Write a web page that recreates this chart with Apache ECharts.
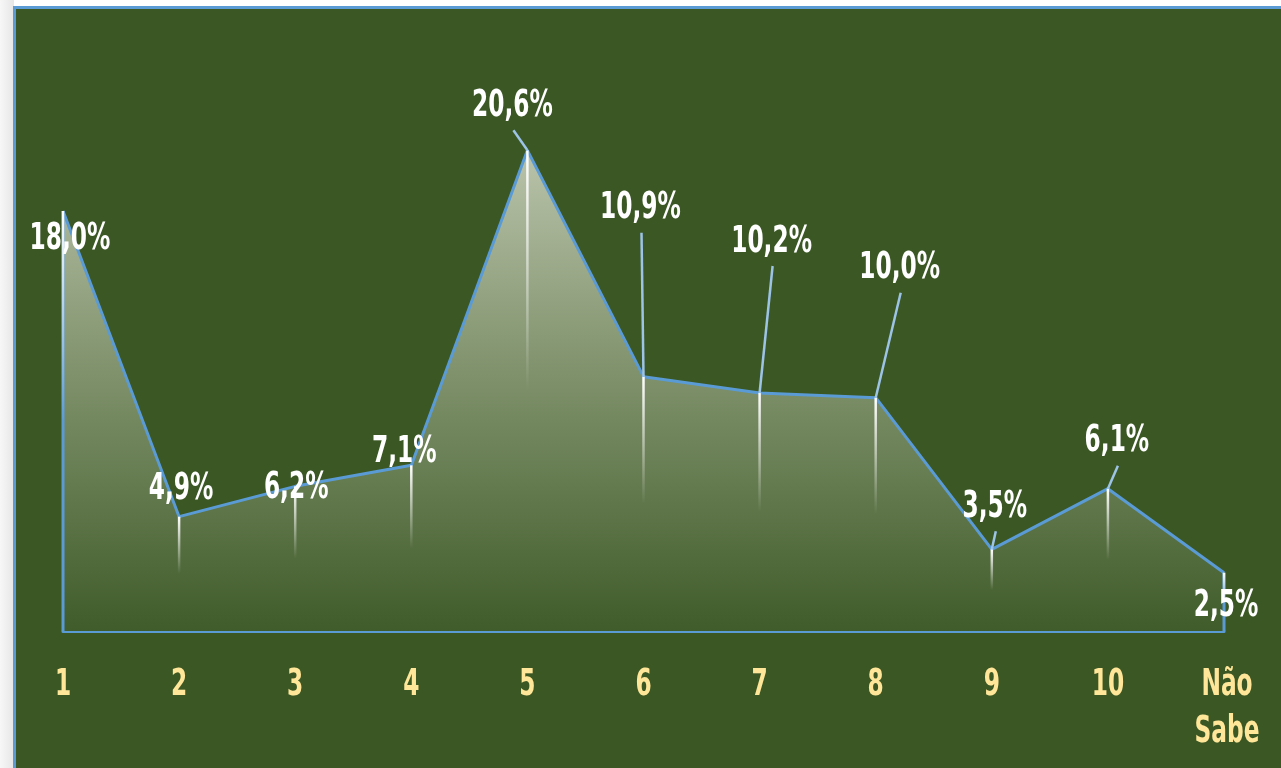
<!DOCTYPE html>
<html>
<head>
<meta charset="utf-8">
<script src="https://cdn.jsdelivr.net/npm/echarts@6/dist/echarts.min.js"></script>
<style>
  html, body { margin: 0; padding: 0; width: 1281px; height: 768px; overflow: hidden; background: #ffffff; }
  #shade { position: absolute; left: 0; top: 0; width: 14px; height: 768px; background: linear-gradient(to right, #f7f7f7, #e6e6e6); }
  #frame { position: absolute; left: 13px; top: 6px; right: 0; bottom: 0; background: #3a5724; border-left: 3px solid #5b9bd5; border-top: 3px solid #5b9bd5; }
  #chart { position: absolute; left: 0; top: 0; width: 1281px; height: 768px; }
</style>
</head>
<body>
<div id="shade"></div>
<div id="frame"></div>
<div id="chart"></div>
<script>
// ---- data ----
const categories = ['1', '2', '3', '4', '5', '6', '7', '8', '9', '10', 'Não\nSabe'];
const values = [18.0, 4.9, 6.2, 7.1, 20.6, 10.9, 10.2, 10.0, 3.5, 6.1, 2.5];
// label placement relative to each point (px)
const labelOffsets = [[7, 28], [2, -27], [1, 2], [-7, -13], [-15, -44], [-3, -168], [12, -151], [24, -129], [3, -42], [9, -47], [2, 34]];

const FONT = '"DejaVu Sans Condensed", "DejaVu Sans", sans-serif';
const NARROW = 0.7;

const chart = echarts.init(document.getElementById('chart'), null, { renderer: 'canvas' });

function fmt(v) { return v.toFixed(1).replace('.', ',') + '%'; }

chart.setOption({
  backgroundColor: 'transparent',
  animation: false,
  grid: { left: 63, right: 57, top: 71, bottom: 137, containLabel: false },
  xAxis: {
    type: 'category',
    data: categories,
    boundaryGap: false,
    axisLine: { show: true, lineStyle: { color: '#5b9bd5', width: 3 } },
    axisTick: { show: false },
    splitLine: { show: false },
    axisLabel: { show: false }
  },
  yAxis: {
    type: 'value',
    min: 0,
    max: 24,
    show: false,
    splitLine: { show: false }
  },
  series: [
    {
      type: 'line',
      data: values,
      z: 2,
      showSymbol: false,
      lineStyle: { color: '#5b9bd5', width: 3 },
      areaStyle: {
        color: {
          type: 'linear', x: 0, y: 0, x2: 0, y2: 1,
          colorStops: [
            { offset: 0, color: '#b9c3aa' },
            { offset: 0.5, color: '#7b8e67' },
            { offset: 1, color: '#405c2a' }
          ]
        },
        opacity: 1
      },
      emphasis: { disabled: true }
    },
    {
      type: 'custom',
      z: 3,
      silent: true,
      clip: false,
      data: values.map((v, i) => [i, v]),
      renderItem: function (params, api) {
        const i = api.value(0);
        const v = api.value(1);
        const p = api.coord([i, v]);
        const half = api.coord([i, v / 2]);
        const base = api.coord([i, 0]);
        const children = [];
        if (i === 0 || i === values.length - 1) {
          children.push({
            type: 'line',
            shape: { x1: p[0], y1: p[1], x2: base[0], y2: base[1] },
            style: { stroke: '#5b9bd5', lineWidth: 3 }
          });
        }
        children.push({
          type: 'line',
          shape: { x1: p[0], y1: p[1], x2: half[0], y2: half[1] },
          style: {
            lineWidth: 2.5,
            stroke: {
              type: 'linear', global: true,
              x: p[0], y: p[1], x2: half[0], y2: half[1],
              colorStops: [
                { offset: 0, color: 'rgba(255,255,255,1)' },
                { offset: 1, color: 'rgba(255,255,255,0)' }
              ]
            }
          }
        });
        const off = labelOffsets[i];
        if (off[1] < -30) {
          children.push({
            type: 'line',
            shape: { x1: p[0], y1: p[1], x2: p[0] + off[0] + 1, y2: p[1] + off[1] + 24 },
            style: { stroke: '#9dc3e6', lineWidth: 2.5 }
          });
        }
        // value label
        children.push({
          type: 'text',
          x: p[0] + off[0],
          y: p[1] + off[1],
          scaleX: NARROW,
          z2: 10,
          style: {
            text: fmt(v),
            x: 0, y: 0,
            align: 'center',
            verticalAlign: 'middle',
            fill: '#ffffff',
            font: 'bold 37px ' + FONT
          }
        });
        // category label
        children.push({
          type: 'text',
          x: base[0] + (i === values.length - 1 ? 3 : 0),
          y: base[1] + 31,
          scaleX: NARROW,
          z2: 10,
          style: {
            text: categories[i],
            x: 0, y: 0,
            align: 'center',
            verticalAlign: 'top',
            lineHeight: 47,
            fill: '#ffe699',
            font: 'bold 37px ' + FONT
          }
        });
        return { type: 'group', children: children };
      }
    }
  ]
});
</script>
</body>
</html>
